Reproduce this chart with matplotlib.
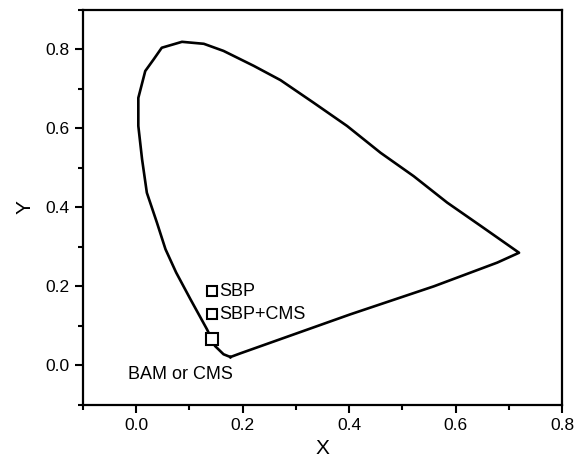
import matplotlib
matplotlib.use("Agg")
import matplotlib.pyplot as plt
from matplotlib.ticker import MultipleLocator

plt.rcParams['font.family'] = ['Liberation Sans', 'DejaVu Sans']

# spectral locus
locus_x = [0.177, 0.164, 0.148, 0.133, 0.102, 0.075, 0.055, 0.039, 0.020, 0.011, 0.004, 0.004,
           0.017, 0.033, 0.048, 0.086, 0.127, 0.164, 0.221, 0.271, 0.333, 0.396, 0.459,
           0.521, 0.584, 0.647, 0.719, 0.678, 0.559, 0.402, 0.195, 0.177]
locus_y = [0.021, 0.028, 0.049, 0.091, 0.167, 0.235, 0.294, 0.361, 0.437, 0.522, 0.606, 0.677,
           0.745, 0.775, 0.804, 0.819, 0.814, 0.796, 0.758, 0.722, 0.665, 0.606, 0.538,
           0.479, 0.412, 0.353, 0.285, 0.260, 0.200, 0.129, 0.030, 0.021]

# sample points
sample_names = ["SBP", "SBP+CMS", "BAM or CMS"]
sample_x = [0.143, 0.143, 0.143]
sample_y = [0.187, 0.129, 0.067]

fig = plt.figure(figsize=(5.76, 4.68), dpi=100)
ax = fig.add_axes([0.144, 0.135, 0.832, 0.844])

ax.plot(locus_x, locus_y, color='black', lw=1.9, solid_joinstyle='round')
ax.plot(sample_x[:2], sample_y[:2], 's', ms=7, mfc='white', mec='black', mew=1.5, ls='none')
ax.plot(sample_x[2:], sample_y[2:], 's', ms=8.5, mfc='white', mec='black', mew=1.5, ls='none')

ax.text(0.155, sample_y[0], sample_names[0], fontsize=13, va='center', ha='left')
ax.text(0.155, sample_y[1], sample_names[1], fontsize=13, va='center', ha='left')
ax.text(-0.015, -0.023, sample_names[2], fontsize=13, va='center', ha='left')

ax.set_xlim(-0.1, 0.8)
ax.set_ylim(-0.1, 0.9)
ax.xaxis.set_minor_locator(MultipleLocator(0.1))
ax.yaxis.set_minor_locator(MultipleLocator(0.1))
ax.set_xticks([0.0, 0.2, 0.4, 0.6, 0.8])
ax.set_xticklabels(["0.0", "0.2", "0.4", "0.6", "0.8"])
ax.set_yticks([0.0, 0.2, 0.4, 0.6, 0.8])
ax.set_yticklabels(["0.0", "0.2", "0.4", "0.6", "0.8"])

ax.tick_params(which='major', direction='out', length=6, width=1.5, labelsize=12.5)
ax.tick_params(which='minor', direction='out', length=3.5, width=1.5)
for s in ax.spines.values():
    s.set_linewidth(1.6)

ax.set_xlabel("X", fontsize=15, labelpad=4)
ax.set_ylabel("Y", fontsize=15, labelpad=8)

fig.savefig("out.png", dpi=100)
